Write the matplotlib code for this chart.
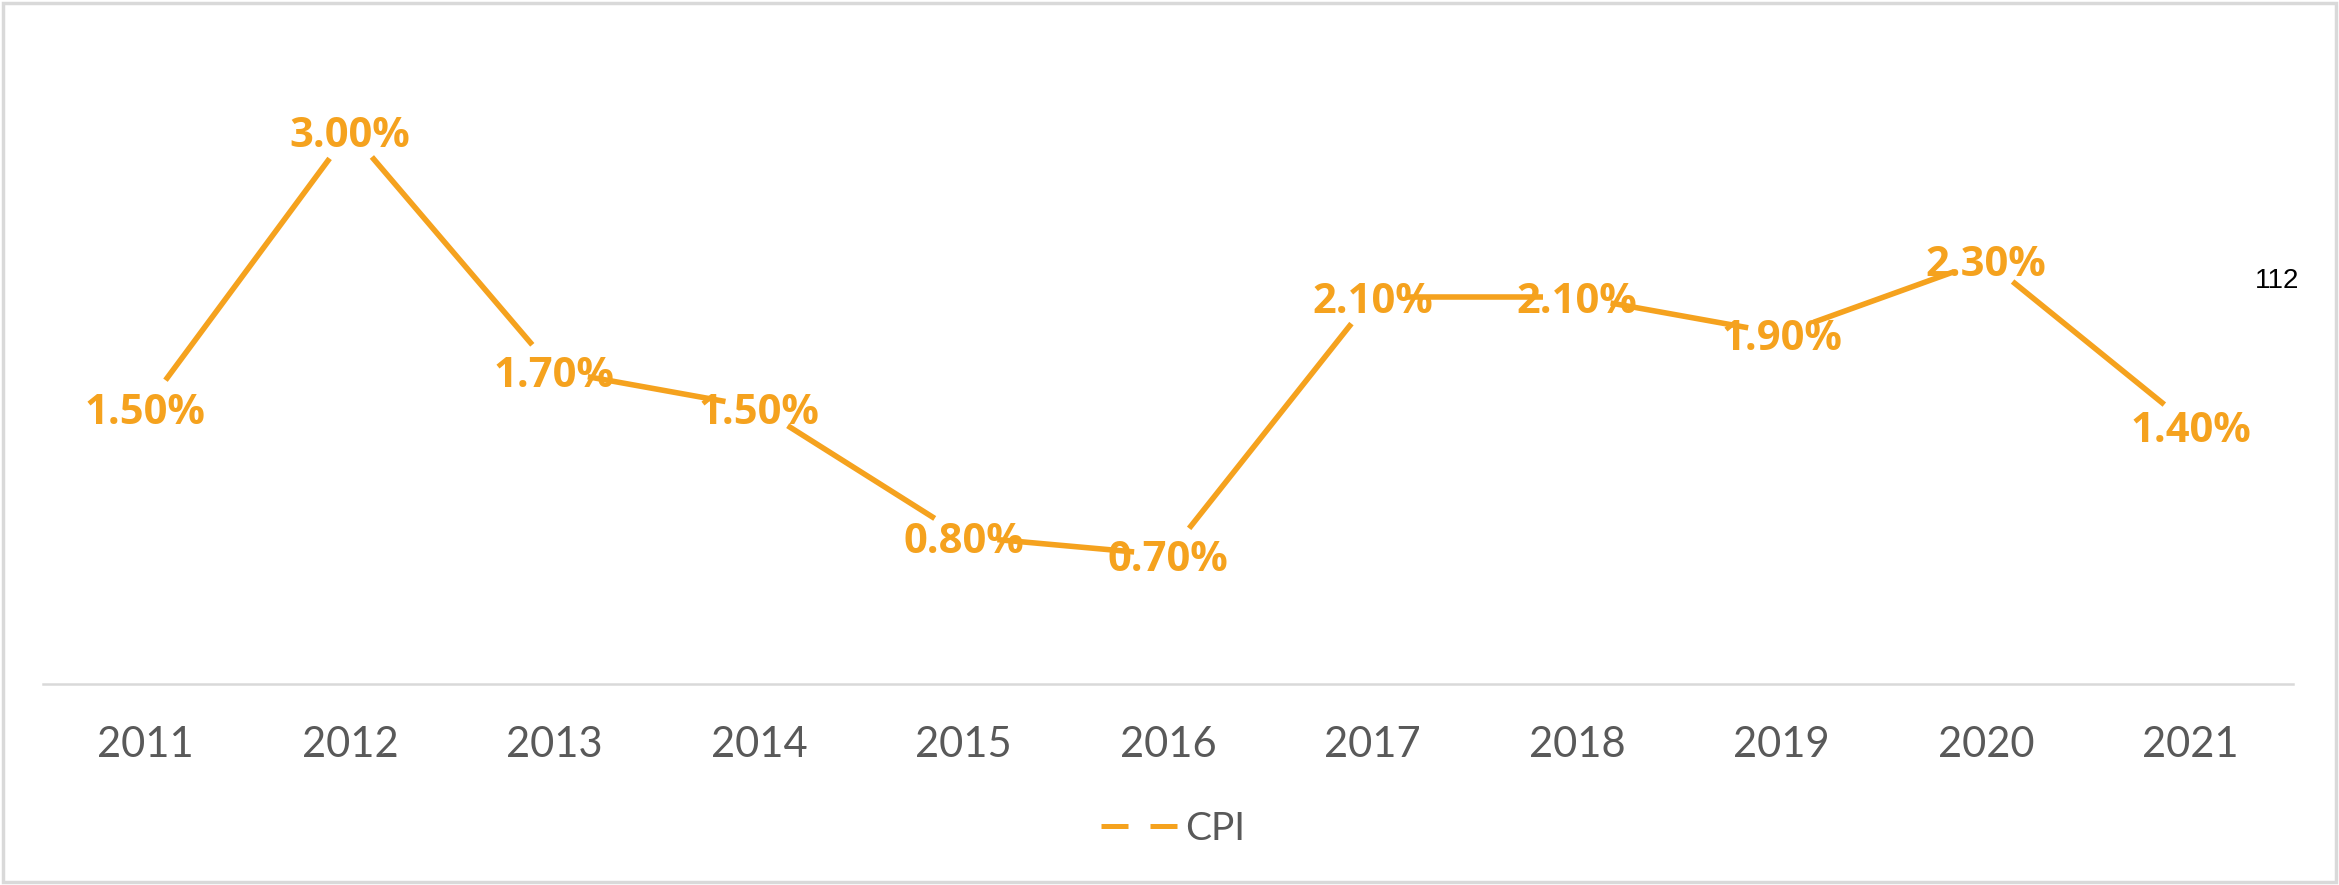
import matplotlib
matplotlib.use("Agg")
import matplotlib.pyplot as plt
from matplotlib.lines import Line2D
from matplotlib.patches import Rectangle
import numpy as np

years = ["2011", "2012", "2013", "2014", "2015", "2016", "2017", "2018", "2019", "2020", "2021"]
cpi = [1.5, 3.0, 1.7, 1.5, 0.8, 0.7, 2.1, 2.1, 1.9, 2.3, 1.4]
labels = ["1.50%", "3.00%", "1.70%", "1.50%", "0.80%", "0.70%", "2.10%", "2.10%", "1.90%", "2.30%", "1.40%"]
series_name = "CPI"
page_number = "112"

ORANGE = "#F5A21E"
GRAY = "#595959"
W, H = 2339, 885
DPI = 100

fig = plt.figure(figsize=(W / DPI, H / DPI), dpi=DPI)
fig.patch.set_facecolor("white")

left_px, right_px, bottom_px = 43, 2293, 684
scale = 184.3
ymax = 3.5
ax = fig.add_axes([left_px / W, 1 - bottom_px / H, (right_px - left_px) / W, ymax * scale / H])
ax.set_xlim(-0.5, len(years) - 0.5)
ax.set_ylim(0, ymax)
for s in ["top", "right", "left"]:
    ax.spines[s].set_visible(False)
ax.spines["bottom"].set_color("#D9D9D9")
ax.spines["bottom"].set_linewidth(1.8)
ax.set_yticks([])
x = np.arange(len(years))
ax.set_xticks(x)
ax.set_xticklabels(years, fontfamily="Lato", fontsize=30, color=GRAY)
ax.tick_params(axis="x", length=0, pad=30)

# line segments with gaps around the data points
fig.canvas.draw()
pts = ax.transData.transform(np.column_stack([x, cpi]))
trim = 34
inv = ax.transData.inverted()
for i in range(len(pts) - 1):
    p0, p1 = pts[i], pts[i + 1]
    d = p1 - p0
    L = np.hypot(*d)
    u = d / L
    a = inv.transform(p0 + u * trim)
    b = inv.transform(p1 - u * trim)
    ax.plot([a[0], b[0]], [a[1], b[1]], color=ORANGE, lw=4.0, solid_capstyle="butt", zorder=2)

for xi, yi, lab in zip(x, cpi, labels):
    ax.annotate(lab, (xi, yi), xytext=(0, -4), textcoords="offset points",
                ha="center", va="center", fontfamily="Open Sans", fontweight="bold",
                fontsize=30, color=ORANGE, zorder=3)

handle = Line2D([], [], color=ORANGE, lw=3.6, dashes=(5.4, 4.4), solid_capstyle="butt")
fig.legend([handle], [series_name], loc="center", bbox_to_anchor=(1173 / W, 1 - 829 / H),
           frameon=False, prop={"family": "Lato", "size": 28}, labelcolor=GRAY,
           handlelength=1.95, handletextpad=0.2)

fig.text(2277 / W, 1 - 281 / H, page_number, ha="center", va="center",
         fontfamily="Liberation Sans", fontsize=20, color="black")

fig.add_artist(Rectangle((3 / W, 3 / H), (W - 6) / W, (H - 6) / H, transform=fig.transFigure,
                         fill=False, edgecolor="#D9D9D9", linewidth=2.5))

fig.savefig("out.png", dpi=DPI)
